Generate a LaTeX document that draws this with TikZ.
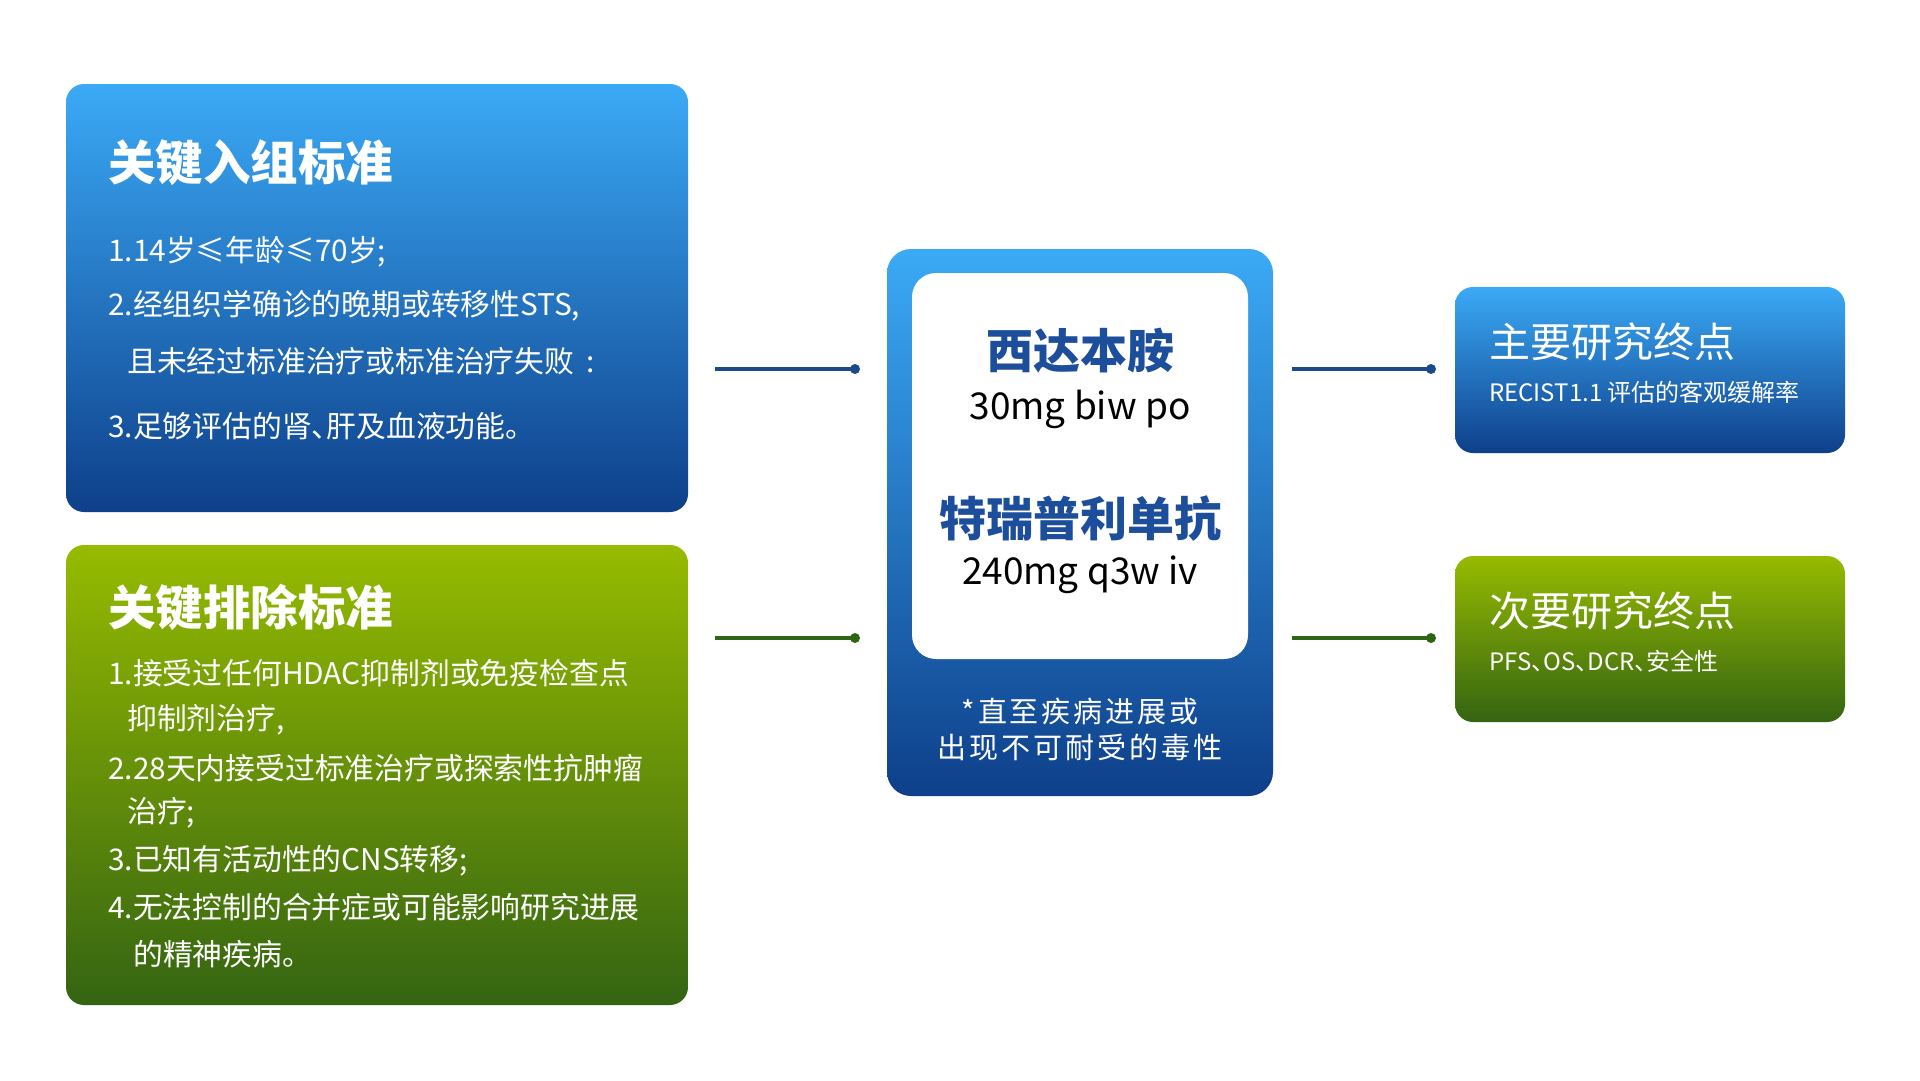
\documentclass[tikz,border=0pt]{standalone}
\usepackage{fontspec}
\setmainfont{Noto Sans CJK SC}
\definecolor{blueTop}{HTML}{3BAAF6}
\definecolor{blueBot}{HTML}{0E3F8A}
\definecolor{greenTop}{HTML}{96BB00}
\definecolor{greenBot}{HTML}{346412}
\definecolor{drugBlue}{HTML}{1D4E9B}
\definecolor{lineBlue}{HTML}{1B4A8C}
\definecolor{lineGreen}{HTML}{2E6614}
\newcommand{\dun}{、\kern-0.5em}
\tikzset{
  bluebox/.style={rounded corners=18pt, top color=blueTop, bottom color=blueBot, draw=none, inner sep=0pt},
  greenbox/.style={rounded corners=18pt, top color=greenTop, bottom color=greenBot, draw=none, inner sep=0pt},
  whitebox/.style={rounded corners=24pt, fill=white, draw=none, inner sep=0pt},
  bigtitle/.style={anchor=west, inner sep=0pt, text=white, font=\fontsize{47.5}{50}\selectfont\bfseries},
  item/.style={anchor=west, inner sep=0pt, text=white, font=\fontsize{29.8}{33}\selectfont},
  endtitle/.style={anchor=west, inner sep=0pt, text=white, font=\fontsize{41}{45}\selectfont},
  endsub/.style={anchor=west, inner sep=0pt, text=white, font=\fontsize{24}{28}\selectfont},
  drug/.style={inner sep=0pt, text=drugBlue, font=\fontsize{47}{50}\selectfont\bfseries},
  dose/.style={inner sep=0pt, text=black, font=\fontsize{37}{40}\selectfont},
  note/.style={inner sep=0pt, text=white, font=\fontsize{29}{33}\selectfont\addfontfeature{LetterSpace=10}},
  conn/.style={line width=3.2pt},
  dotend/.style={circle, inner sep=0pt, minimum size=10pt}
}
\begin{document}
\begin{tikzpicture}[x=1pt,y=-1pt]
\useasboundingbox[fill=white] (0,0) rectangle (1920,1080);

% left boxes
\node[bluebox, minimum width=622pt, minimum height=428pt] (incl) at (377,298) {};
\node[greenbox, minimum width=622pt, minimum height=460pt] (excl) at (377,775) {};

\node[bigtitle] (inclT) at (108,163) {关键入组标准};
\node[item] (i1) at (108,252) {1.14岁≤年龄≤70岁;};
\node[item] (i2) at (108,306) {2.经组织学确诊的晚期或转移性STS,};
\node[item] (i2b) at (127,361) {且未经过标准治疗或标准治疗失败\kern0.4em:};
\node[item] (i3) at (108,426) {3.足够评估的肾\dun 肝及血液功能。};

\node[bigtitle] (exclT) at (108,607) {关键排除标准};
\node[item] (e1) at (108,673) {1.接受过任何HDAC抑制剂或免疫检查点};
\node[item] (e1b) at (127,720) {抑制剂治疗,};
\node[item] (e2) at (108,768) {2.28天内接受过标准治疗或探索性抗肿瘤};
\node[item] (e2b) at (127,813) {治疗;};
\node[item] (e3) at (108,861) {3.已知有活动性的CNS转移;};
\node[item] (e4) at (108,907) {4.无法控制的合并症或可能影响研究进展};
\node[item] (e4b) at (133,954) {的精神疾病。};

% center
\node[bluebox, rounded corners=24pt, minimum width=386pt, minimum height=547pt] (center) at (1080,522.5) {};
\node[whitebox, minimum width=336pt, minimum height=386pt] (inner) at (1080,466) {};
\node[drug] (d1) at (1080,351) {西达本胺};
\node[dose] (d1s) at (1080,409) {30mg biw po};
\node[drug] (d2) at (1080,519) {特瑞普利单抗};
\node[dose] (d2s) at (1080,575) {240mg q3w iv};
\node[note] (n1) at (1080,711) {*直至疾病进展或};
\node[note] (n2) at (1080,747) {出现不可耐受的毒性};

% right boxes
\node[bluebox, minimum width=390pt, minimum height=166pt] (prim) at (1650,370) {};
\node[greenbox, minimum width=390pt, minimum height=166pt] (sec) at (1650,639) {};
\node[endtitle] (pT) at (1489,342) {主要研究终点};
\node[endsub] (pS) at (1489,392) {RECIST1.1 评估的客观缓解率};
\node[endtitle] (sT) at (1489,611) {次要研究终点};
\node[endsub] (sS) at (1489,661) {PFS\dun OS\dun DCR\dun 安全性};

% connectors
\coordinate (a1) at (715,369);
\node[dotend, fill=lineBlue] (a2) at (855,369) {};
\coordinate (b1) at (715,638);
\node[dotend, fill=lineGreen] (b2) at (855,638) {};
\coordinate (c1) at (1292,369);
\node[dotend, fill=lineBlue] (c2) at (1431,369) {};
\coordinate (g1) at (1292,638);
\node[dotend, fill=lineGreen] (g2) at (1431,638) {};
\draw[conn, lineBlue] (a1) -- (a2.center);
\draw[conn, lineGreen] (b1) -- (b2.center);
\draw[conn, lineBlue] (c1) -- (c2.center);
\draw[conn, lineGreen] (g1) -- (g2.center);
\end{tikzpicture}
\end{document}
